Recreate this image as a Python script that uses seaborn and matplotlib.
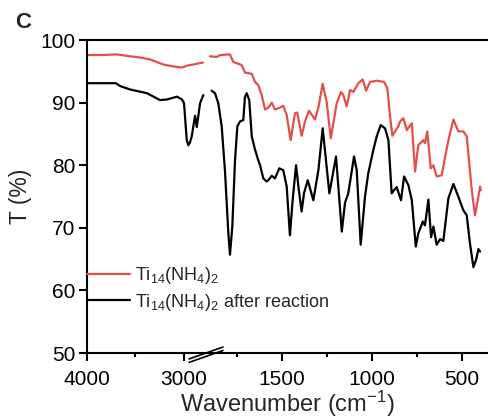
import numpy as np
import pandas as pd
import matplotlib
matplotlib.use("Agg")
import matplotlib.pyplot as plt
import seaborn as sns

# ---------------- data (wavenumber cm^-1, transmittance %) ----------------
red_left_w = [4000, 3850, 3692, 3555, 3450, 3349, 3216, 3120, 3072, 3020, 2969, 2900, 2805]
red_left_t = [97.6, 97.6, 97.7, 97.4, 97.2, 96.9, 96.1, 95.8, 95.7, 95.6, 95.9, 96.1, 96.4]

red_right_w = [1900, 1861, 1844, 1789, 1771, 1724, 1706, 1668, 1650, 1632, 1613, 1594,
               1576, 1557, 1539, 1511, 1493, 1474, 1452, 1428, 1415, 1391, 1372, 1350,
               1317, 1298, 1274, 1252, 1229, 1196, 1172, 1159, 1141, 1122, 1104, 1076,
               1052, 1033, 1011, 974, 933, 915, 900, 887, 872, 854, 844, 826, 807, 779,
               761, 743, 715, 706, 693, 674, 659, 641, 613, 585, 567, 548, 521, 493, 474,
               446, 428, 409, 400, 396]
red_right_t = [97.4, 97.3, 97.6, 97.7, 96.5, 96.0, 94.8, 94.6, 93.3, 92.8, 91.2, 88.9,
               89.2, 90.0, 88.9, 89.2, 89.5, 88.0, 84.0, 88.3, 88.4, 84.7, 87.0, 88.7,
               87.3, 89.2, 93.0, 90.1, 84.3, 89.9, 91.7, 91.2, 89.4, 92.0, 91.7, 93.1,
               93.7, 91.9, 93.3, 93.5, 93.3, 92.3, 87.8, 84.7, 85.4, 86.2, 87.0, 87.5, 85.6, 86.7,
               79.0, 83.2, 84.0, 83.5, 85.4, 79.5, 80.0, 78.2, 78.4, 82.7, 85.1, 87.3, 85.4, 85.4, 84.6,
               76.0, 72.0, 75.0, 76.6, 76.0]

blk_left_w = [4000, 3700, 3658, 3555, 3380, 3247, 3175, 3072, 3021, 3000, 2972, 2956,
              2940, 2921, 2887, 2869, 2835, 2802]
blk_left_t = [93.1, 93.1, 92.65, 92.1, 91.5, 90.4, 90.5, 90.95, 90.5, 89.9, 84.0, 83.2,
              83.6, 84.6, 87.9, 86.1, 89.9, 91.2]

blk_right_w = [1891, 1872, 1854, 1835, 1817, 1798, 1789, 1776, 1761, 1748, 1733, 1715,
               1706, 1696, 1682, 1668, 1650, 1632, 1622, 1604, 1585, 1576, 1557, 1539,
               1515, 1493, 1474, 1456, 1441, 1422, 1409, 1391, 1378, 1357, 1326, 1298,
               1274, 1237, 1200, 1168, 1150, 1132, 1100, 1085, 1063, 1039, 1021, 993,
               974, 952, 928, 909, 891, 878, 863, 839, 822, 798, 779, 757, 743, 718,
               706, 687, 672, 659, 641, 622, 604, 576, 548, 521, 493, 474, 456, 437,
               422, 409, 400]
blk_right_t = [91.9, 91.5, 89.9, 86.2, 79.2, 69.1, 65.7, 70.2, 80.8, 86.2, 87.0, 87.2,
               90.9, 91.5, 90.4, 84.6, 82.5, 80.8, 80.0, 77.9, 77.4, 77.6, 78.3, 77.9,
               79.5, 79.2, 76.6, 68.8, 74.4, 80.0, 76.6, 72.6, 75.5, 77.6, 74.4, 79.2,
               85.9, 75.5, 81.4, 69.4, 74.0, 75.5, 81.4, 79.2, 67.3, 75.0, 78.7, 82.4,
               84.6, 86.4, 85.9, 84.0, 75.5, 76.0, 76.5, 74.4, 78.2, 76.8, 74.4, 67.0, 69.1, 71.0,
               70.4, 74.5, 68.5, 70.2, 67.3, 68.2, 67.9, 74.7, 77.0, 75.0, 72.8, 72.0, 67.5, 63.7,
               64.9, 66.6, 66.2]

series_names = ["Ti$_{14}$(NH$_4$)$_2$", "Ti$_{14}$(NH$_4$)$_2$ after reaction"]
colors = ["#E2504B", "#000000"]

major_ticks = [4000, 3000, 1500, 1000, 500]
minor_ticks = [3500, 1750, 1250, 750]
yticks = [50, 60, 70, 80, 90, 100]

# broken-axis layout: left piece 4000-2800, right piece 1900-...
LEFT_HI, LEFT_LO = 4000, 2800
RIGHT_HI = 1900
LEFT_RATE = 0.0973   # display units per cm^-1 (left piece)
RIGHT_RATE = 0.18    # display units per cm^-1 (right piece)
U0 = 86.7
U_LEFT_END = U0 + (LEFT_HI - LEFT_LO) * LEFT_RATE
U_RIGHT_START = U_LEFT_END + 6.5
GAP_RATE = (U_RIGHT_START - U_LEFT_END) / (LEFT_LO - RIGHT_HI)


def _u(w):
    w = np.asarray(w, dtype=float)
    return np.where(w >= LEFT_LO, U0 + (LEFT_HI - w) * LEFT_RATE,
                    np.where(w >= RIGHT_HI, U_LEFT_END + (LEFT_LO - w) * GAP_RATE,
                             U_RIGHT_START + (RIGHT_HI - w) * RIGHT_RATE))


def fwd(w):
    # increasing in w
    return -_u(w)


def inv(v):
    u = -np.asarray(v, dtype=float)
    return np.where(u <= U_LEFT_END, LEFT_HI - (u - U0) / LEFT_RATE,
                    np.where(u <= U_RIGHT_START, LEFT_LO - (u - U_LEFT_END) / GAP_RATE,
                             RIGHT_HI - (u - U_RIGHT_START) / RIGHT_RATE))


# ---------------- build tidy frame ----------------
frames = []
for name, segs in [(series_names[0], [(red_left_w, red_left_t), (red_right_w, red_right_t)]),
                   (series_names[1], [(blk_left_w, blk_left_t), (blk_right_w, blk_right_t)])]:
    for i, (w, t) in enumerate(segs):
        frames.append(pd.DataFrame({"w": w, "T": t, "sample": name, "seg": i}))
df = pd.concat(frames, ignore_index=True)

# ---------------- style ----------------
sns.set_style("ticks")
plt.rcParams["font.family"] = ["Liberation Sans", "DejaVu Sans"]
plt.rcParams["mathtext.fontset"] = "custom"
plt.rcParams["mathtext.rm"] = "Liberation Sans"
plt.rcParams["mathtext.it"] = "Liberation Sans:italic"
plt.rcParams["mathtext.bf"] = "Liberation Sans:bold"

fig = plt.figure(figsize=(4.88, 4.19), dpi=100)
ax = fig.add_axes([86.7 / 488, 66 / 419, 402 / 488, 313 / 419])
ax.set_xscale("function", functions=(fwd, inv))

sns.lineplot(data=df, x="w", y="T", hue="sample", units="seg", estimator=None,
             sort=False, palette=dict(zip(series_names, colors)), linewidth=1.6,
             ax=ax, legend=True)

ax.set_xlim(4000, 352)
ax.set_ylim(50, 100)
ax.set_xticks(major_ticks)
ax.set_xticklabels([str(v) for v in major_ticks])
ax.set_xticks(minor_ticks, minor=True)
ax.set_yticks(yticks)

for s in ["left", "bottom", "top"]:
    ax.spines[s].set_linewidth(1.5)
    ax.spines[s].set_color("black")
ax.spines["right"].set_visible(False)

ax.tick_params(axis="both", which="major", length=6, width=1.5, labelsize=15,
               color="black", labelcolor="black")
ax.tick_params(axis="x", which="major", pad=6)
ax.tick_params(axis="y", which="major", pad=2)
ax.tick_params(axis="x", which="minor", length=3, width=1.5, color="black")
ax.tick_params(axis="y", which="minor", length=0)

ax.set_xlabel("Wavenumber (cm$^{-1}$)", fontsize=17, labelpad=0)
ax.set_ylabel("T (%)", fontsize=16.5, labelpad=6)

# axis-break marks
bt = ax.get_xaxis_transform()
for dy in (0.0, -0.011):
    ax.plot([2948, 1828], [-0.019 + dy, 0.019 + dy], color="black", lw=1.2,
            transform=bt, clip_on=False)

handles, labels = ax.get_legend_handles_labels()
leg = ax.legend(handles, labels, loc="center left", bbox_to_anchor=(0.0, 0.205),
                frameon=False, fontsize=13, handlelength=2.4, handletextpad=0.3,
                borderaxespad=0, borderpad=0, labelspacing=0.3)
for h in leg.get_lines():
    h.set_linewidth(1.6)

fig.text(15 / 488, 1 - 22 / 419, "C", fontsize=16, fontweight="bold", va="center",
         ha="left")

fig.savefig("out.png", dpi=100)
